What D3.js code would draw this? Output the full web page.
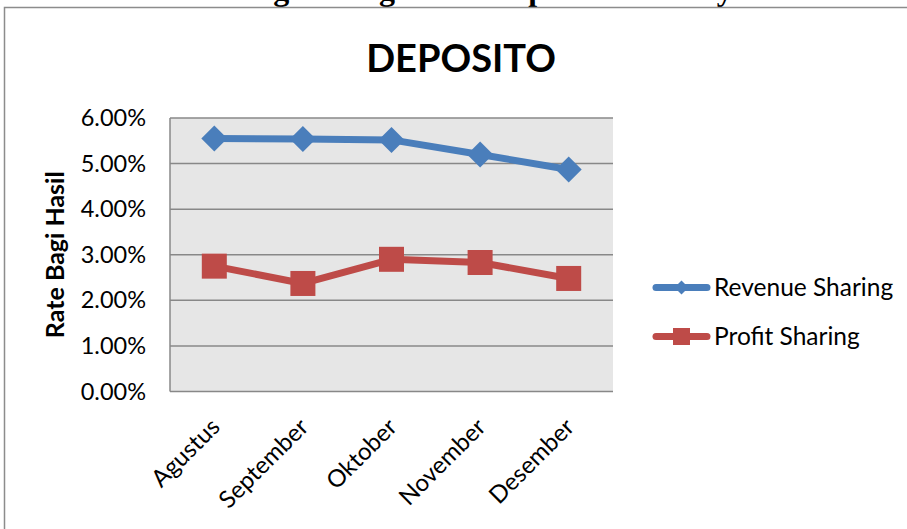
<!DOCTYPE html>
<html>
<head>
<meta charset="utf-8">
<script src="https://cdn.jsdelivr.net/npm/d3@7"></script>
<style>
  html, body { margin: 0; padding: 0; background: #fff; overflow: hidden; }
  svg { display: block; }
</style>
</head>
<body>
<svg id="chart"></svg>
<script>
// data
const months = ["Agustus", "September", "Oktober", "November", "Desember"];
const revenueSharing = [5.55, 5.54, 5.52, 5.20, 4.87];
const profitSharing = [2.75, 2.37, 2.90, 2.83, 2.48];
const yTicks = [0, 1, 2, 3, 4, 5, 6];
const seriesNames = ["Revenue Sharing", "Profit Sharing"];
const pageHeading = "Tingkat Bagi Hasil Deposito Bank Syariah Mandiri";

const width = 907, height = 529;
const plot = { left: 170, top: 118, right: 613, bottom: 391.5 };
const font = "Lato, 'Open Sans', sans-serif";

const svg = d3.select("#chart")
    .attr("width", width)
    .attr("height", height);

// heading of the document, only its lower edge shows above the frame
const heading = svg.append("text")
    .attr("x", 0)
    .attr("y", 0)
    .attr("font-family", "'Liberation Serif', serif")
    .attr("font-weight", "bold")
    .attr("font-size", 32)
    .text(pageHeading);
// put the "g" of "Bagi" under x = 387
const gIdx = pageHeading.indexOf("Bagi") + 2;
const ext = heading.node().getExtentOfChar(gIdx);
heading.attr("x", 387 - (ext.x + ext.width / 2));

// chart frame (runs past the right and bottom edges)
svg.append("rect")
    .attr("x", 4.5).attr("y", 7.5)
    .attr("width", 1000).attr("height", 1000)
    .attr("fill", "#fff")
    .attr("stroke", "#8c8c8c")
    .attr("stroke-width", 1.5);

const x = d3.scaleBand()
    .domain(months)
    .range([plot.left, plot.right]);

const y = d3.scaleLinear()
    .domain([0, 6])
    .range([plot.bottom, plot.top]);

// plot area
svg.append("rect")
    .attr("x", plot.left).attr("y", plot.top)
    .attr("width", plot.right - plot.left)
    .attr("height", plot.bottom - plot.top)
    .attr("fill", "#e6e6e6");

const grid = svg.append("g").attr("class", "grid");
grid.selectAll("line")
    .data(yTicks)
    .join("line")
    .attr("x1", plot.left).attr("x2", plot.right)
    .attr("y1", d => y(d)).attr("y2", d => y(d))
    .attr("stroke", "#888")
    .attr("stroke-width", 1.5);

// left border of the plot area
svg.append("line")
    .attr("x1", plot.left).attr("x2", plot.left)
    .attr("y1", plot.top).attr("y2", plot.bottom)
    .attr("stroke", "#888")
    .attr("stroke-width", 1.5);

// y axis labels
const yAxis = svg.append("g")
    .attr("transform", `translate(${plot.left - 24}, 0)`)
    .call(d3.axisLeft(y).tickValues(yTicks).tickSize(0).tickPadding(0)
        .tickFormat(d => d.toFixed(2) + "%"));
yAxis.select(".domain").remove();
yAxis.selectAll("text")
    .attr("font-family", font)
    .attr("font-size", 23.5)
    .attr("fill", "#000");

// x axis labels, rotated
const xAxis = svg.append("g")
    .attr("transform", `translate(0, ${plot.bottom})`)
    .call(d3.axisBottom(x).tickSize(0).tickPadding(0));
xAxis.select(".domain").remove();
xAxis.selectAll(".tick text")
    .attr("font-family", font)
    .attr("font-size", 24)
    .attr("fill", "#000")
    .attr("text-anchor", "end")
    .attr("dy", null)
    .attr("transform", "translate(7, 37) rotate(-45)");

// y axis title
svg.append("text")
    .attr("transform", `translate(64, ${(plot.top + plot.bottom) / 2}) rotate(-90)`)
    .attr("text-anchor", "middle")
    .attr("font-family", font)
    .attr("font-weight", "bold")
    .attr("font-size", 25)
    .text("Rate Bagi Hasil");

// chart title
svg.append("text")
    .attr("x", 461).attr("y", 72)
    .attr("text-anchor", "middle")
    .attr("font-family", font)
    .attr("font-weight", "bold")
    .attr("font-size", 38)
    .text("DEPOSITO");

const blue = "#4a7ebb", red = "#be4b48";
const cx = d => x(d) + x.bandwidth() / 2;

const line = d3.line()
    .x(d => cx(d.m))
    .y(d => y(d.v));

const series = [
    { name: seriesNames[0], color: blue, marker: "diamond",
      values: months.map((m, i) => ({ m, v: revenueSharing[i] })) },
    { name: seriesNames[1], color: red, marker: "square",
      values: months.map((m, i) => ({ m, v: profitSharing[i] })) }
];

const drawMarker = (g, type, color, size) => {
    if (type === "diamond") {
        g.append("path")
            .attr("d", `M0,${-size / 2}L${size / 2},0L0,${size / 2}L${-size / 2},0Z`)
            .attr("fill", color);
    } else {
        g.append("rect")
            .attr("x", -size / 2).attr("y", -size / 2)
            .attr("width", size).attr("height", size)
            .attr("fill", color);
    }
};

series.forEach(s => {
    svg.append("path")
        .datum(s.values)
        .attr("d", line)
        .attr("fill", "none")
        .attr("stroke", s.color)
        .attr("stroke-width", 7)
        .attr("stroke-linejoin", "round");
    svg.append("g")
        .selectAll("g")
        .data(s.values)
        .join("g")
        .attr("transform", d => `translate(${cx(d.m)}, ${y(d.v)})`)
        .each(function () {
            drawMarker(d3.select(this), s.marker, s.color, s.marker === "diamond" ? 26 : 25);
        });
});

// legend
const legend = svg.append("g");
series.forEach((s, i) => {
    const ly = 287.5 + i * 49;
    legend.append("line")
        .attr("x1", 656).attr("x2", 707)
        .attr("y1", ly).attr("y2", ly)
        .attr("stroke", s.color)
        .attr("stroke-width", 7)
        .attr("stroke-linecap", "round");
    const m = legend.append("g").attr("transform", `translate(681.5, ${ly})`);
    drawMarker(m, s.marker, s.color, s.marker === "diamond" ? 14 : 17);
    legend.append("text")
        .attr("x", 714).attr("y", ly)
        .attr("dy", "0.35em")
        .attr("font-family", font)
        .attr("font-size", 24.5)
        .text(s.name);
});
</script>
</body>
</html>
